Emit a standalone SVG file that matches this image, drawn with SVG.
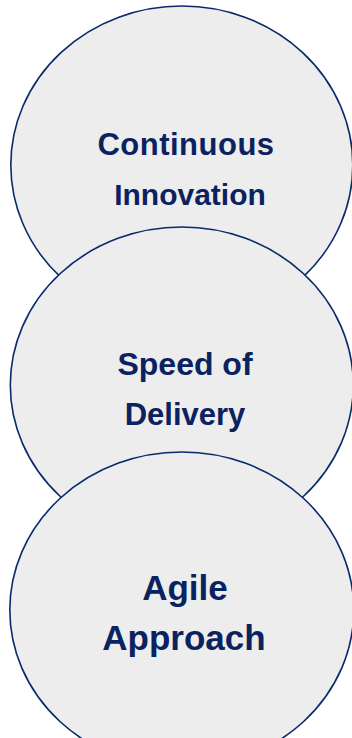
<svg xmlns="http://www.w3.org/2000/svg" width="352" height="738" viewBox="0 0 352 738">
<style>
.c{fill:#EDEDED;stroke:#0A2A6B;stroke-width:1.6}
.t{font-family:"Liberation Sans",Arial,sans-serif;font-weight:bold;fill:#0A2360;text-anchor:middle}
</style>
<rect width="352" height="738" fill="#FFFFFF"/>
<g id="connectors"></g>
<g id="node-continuous-innovation">
<ellipse class="c" cx="181.8" cy="165" rx="171" ry="159"/>
<text class="t" x="186" y="155" font-size="31" letter-spacing="0.5">Continuous</text>
<text class="t" x="190" y="205" font-size="30">Innovation</text>
</g>
<g id="node-speed-of-delivery">
<ellipse class="c" cx="181.8" cy="385" rx="171.5" ry="158"/>
<text class="t" x="185" y="375" font-size="32">Speed of</text>
<text class="t" x="185" y="425" font-size="31">Delivery</text>
</g>
<g id="node-agile-approach">
<ellipse class="c" cx="181.8" cy="610" rx="172" ry="158"/>
<text class="t" x="185" y="600" font-size="35">Agile</text>
<text class="t" x="184" y="650" font-size="35">Approach</text>
</g>
</svg>
